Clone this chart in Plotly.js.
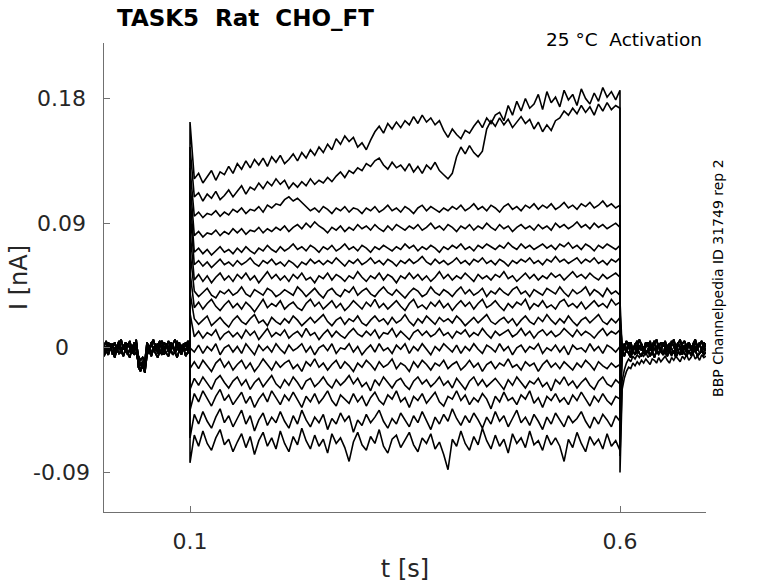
<!DOCTYPE html>
<html>
<head>
<meta charset="utf-8">
<script src="https://cdn.plot.ly/plotly-3.0.1.min.js"></script>
<style>html,body{margin:0;padding:0;background:#ffffff;}</style>
</head>
<body>
<div id="chart" style="width:778px;height:583px;"></div>
<script>
// ---------- sampling clock (s) ----------
const preStart = 0.0, stepOn = 0.1, stepOff = 0.6, postEnd = 0.7;
const dtBase = 0.0025;   // holding segments
const dtStep = 0.005;    // test-pulse segment

// ---------- tick labels ----------
const xTickVals = [0.1, 0.6];
const xTickLabels = ['0.1', '0.6'];
const yTickVals = [0.18, 0.09, 0, -0.09];
const yTickLabels = ['0.18', '0.09', '0', '-0.09'];

// ---------- holding current before the pulse (nA), t = 0 .. 0.1 ----------
const preA = [0.002,-0.003,0.004,-0.001,0.003,-0.004,0.001,0.005,-0.002,0.002,
 -0.003,0.003,0.000,-0.004,0.004,-0.001,-0.009,-0.012,-0.010,-0.013,
 0.001,-0.003,0.004,-0.002,0.003,-0.004,0.002,0.005,-0.001,0.003,
 -0.003,0.004,0.000,-0.002,0.005,-0.003,0.002,-0.001,0.004,-0.002,0.001];
const preB = [-0.004,0.001,-0.002,0.003,-0.005,0.000,-0.003,0.002,-0.004,0.001,
 0.003,-0.005,-0.001,0.002,-0.003,0.006,-0.014,-0.017,-0.011,-0.015,
 -0.003,0.002,-0.005,0.001,-0.002,0.003,-0.004,0.000,-0.005,0.002,
 0.001,-0.003,0.003,-0.004,-0.001,0.002,-0.005,0.001,-0.002,0.003,-0.003];
const preC = [0.001,0.005,-0.001,0.003,0.000,0.004,-0.002,0.003,0.006,-0.001,
 0.004,0.001,0.005,-0.002,0.002,0.004,-0.006,-0.009,-0.007,-0.010,
 0.004,0.000,0.003,0.006,-0.001,0.002,0.005,-0.002,0.004,0.001,
 0.005,-0.001,0.003,0.006,0.000,0.004,-0.002,0.003,0.001,0.005,0.002];
const preD = [-0.006,-0.002,-0.005,0.000,-0.003,-0.007,-0.001,-0.004,-0.002,-0.006,
 -0.001,-0.004,-0.007,0.000,-0.005,-0.003,-0.011,-0.016,-0.013,-0.018,
 -0.005,-0.002,-0.006,-0.001,-0.004,-0.007,-0.002,-0.005,0.000,-0.004,
 -0.006,-0.001,-0.005,-0.003,-0.007,-0.002,-0.004,0.000,-0.006,-0.003,-0.004];

// ---------- current during the test pulse (nA), t = 0.1 .. 0.6 ----------
const sweep01 = [0.163,
 0.122,0.126,0.119,0.124,0.128,0.121,0.127,0.125,
 0.131,0.126,0.133,0.129,0.135,0.130,0.136,0.132,
 0.137,0.131,0.138,0.134,0.139,0.133,0.136,0.140,0.135,
 0.141,0.137,0.143,0.139,0.145,0.141,0.147,0.143,
 0.151,0.147,0.153,0.149,0.152,
 0.145,0.148,0.143,0.150,
 0.156,0.160,0.155,0.162,0.158,0.163,0.159,0.164,
 0.161,0.167,0.162,0.168,0.163,0.166,0.161,0.164,
 0.157,0.152,0.158,0.154,0.151,0.157,0.155,
 0.160,0.164,0.159,0.166,0.162,0.168,
 0.170,0.164,0.175,0.168,0.178,0.171,0.180,0.173,
 0.176,0.183,0.172,0.185,0.177,0.181,0.174,0.186,0.179,0.183,0.175,0.187,0.180,0.176,0.184,0.178,0.188,0.181,0.185,0.179,0.186];
const sweep02 = [0.145,
 0.109,0.112,0.106,0.111,0.108,0.113,0.107,0.110,0.114,0.109,
 0.113,0.117,0.111,0.116,0.114,0.119,0.115,0.120,0.117,
 0.122,0.118,0.121,0.115,0.119,0.116,
 0.120,0.117,0.122,0.118,0.121,0.119,0.123,0.120,
 0.124,0.127,0.123,0.128,0.126,0.130,0.128,0.133,0.131,0.135,0.137,
 0.132,0.129,0.134,0.130,0.132,
 0.128,0.133,0.127,0.131,0.126,0.132,0.129,0.134,0.128,
 0.125,0.122,0.126,
 0.138,0.145,0.140,0.146,0.141,0.138,0.142,
 0.158,0.164,0.160,0.166,0.161,0.165,0.159,0.163,0.167,0.162,0.165,
 0.158,0.163,0.156,0.161,0.157,0.164,
 0.166,0.171,0.168,0.173,0.169,0.175,0.170,0.174,0.168,0.176,0.171,0.177,0.172,0.175,0.173];
const sweep03 = [0.130,
 0.095,0.098,0.094,0.097,0.096,0.099,0.095,0.098,0.096,0.100,
 0.098,0.101,0.097,0.100,0.099,0.102,0.098,0.103,0.101,0.104,0.103,
 0.107,0.109,0.106,0.108,0.105,
 0.102,0.099,0.101,0.098,0.102,0.100,0.097,0.101,0.099,0.102,0.098,0.101,0.100,0.097,
 0.101,0.099,0.102,0.098,0.100,0.103,0.099,0.101,0.098,0.102,0.100,0.097,0.101,0.103,0.099,0.102,0.100,0.098,0.101,0.099,
 0.102,0.100,0.103,0.099,0.101,0.104,0.100,0.102,0.099,0.103,0.101,0.098,0.102,0.104,0.100,0.102,0.099,0.103,0.101,0.104,
 0.100,0.103,0.101,0.104,0.100,0.102,0.105,0.101,0.103,0.100,0.104,0.102,0.105,0.101,0.103,0.106,0.102,0.104,0.101,0.103];
const sweep04 = [0.120,
 0.081,0.084,0.080,0.083,0.082,0.085,0.081,0.084,0.082,0.086,
 0.083,0.086,0.082,0.085,0.084,0.087,0.083,0.086,0.084,0.087,
 0.085,0.088,0.084,0.087,0.089,0.086,0.090,0.087,0.091,0.088,
 0.086,0.083,0.087,0.085,0.088,0.084,0.087,0.085,0.089,0.086,
 0.088,0.085,0.089,0.086,0.084,0.088,0.085,0.089,0.087,0.085,
 0.088,0.086,0.089,0.085,0.087,0.090,0.086,0.088,0.085,0.089,
 0.087,0.084,0.088,0.086,0.089,0.085,0.088,0.086,0.090,0.087,
 0.085,0.089,0.086,0.088,0.084,0.087,0.089,0.086,0.088,0.085,
 0.089,0.086,0.088,0.085,0.090,0.087,0.089,0.086,0.088,0.091,
 0.087,0.089,0.086,0.090,0.087,0.089,0.086,0.088,0.090,0.087];
const sweep05 = [0.110,
 0.069,0.072,0.068,0.071,0.067,0.070,0.073,0.069,0.071,0.068,
 0.072,0.069,0.073,0.070,0.068,0.072,0.070,0.074,0.071,0.069,
 0.073,0.070,0.072,0.075,0.071,0.073,0.070,0.074,0.072,0.069,
 0.073,0.071,0.074,0.070,0.072,0.075,0.071,0.073,0.070,0.074,
 0.072,0.069,0.073,0.071,0.074,0.072,0.070,0.073,0.071,0.075,
 0.072,0.074,0.070,0.073,0.071,0.074,0.072,0.069,0.073,0.071,
 0.074,0.072,0.075,0.071,0.073,0.070,0.074,0.072,0.075,0.073,
 0.071,0.074,0.072,0.076,0.073,0.071,0.075,0.072,0.074,0.071,
 0.073,0.075,0.072,0.074,0.071,0.075,0.073,0.076,0.072,0.074,
 0.071,0.075,0.073,0.070,0.074,0.072,0.075,0.073,0.071,0.074];
const sweep06 = [0.100,
 0.060,0.063,0.059,0.062,0.058,0.061,0.064,0.060,0.062,0.059,
 0.063,0.060,0.062,0.065,0.061,0.059,0.063,0.061,0.064,0.060,
 0.062,0.059,0.063,0.061,0.058,0.062,0.060,0.064,0.061,0.063,
 0.060,0.063,0.061,0.065,0.062,0.059,0.063,0.061,0.064,0.060,
 0.062,0.065,0.061,0.063,0.060,0.064,0.062,0.059,0.063,0.061,
 0.064,0.061,0.063,0.066,0.062,0.060,0.064,0.061,0.063,0.060,
 0.062,0.065,0.061,0.063,0.060,0.064,0.062,0.065,0.061,0.063,
 0.060,0.064,0.062,0.059,0.063,0.061,0.064,0.062,0.065,0.061,
 0.063,0.060,0.064,0.062,0.066,0.062,0.064,0.061,0.063,0.065,
 0.061,0.064,0.062,0.065,0.061,0.063,0.060,0.064,0.062,0.065];
const sweep07 = [0.085,
 0.049,0.053,0.048,0.052,0.047,0.051,0.054,0.049,0.052,0.048,
 0.053,0.050,0.054,0.049,0.052,0.047,0.051,0.055,0.050,0.053,
 0.049,0.052,0.048,0.053,0.050,0.054,0.049,0.051,0.047,0.052,
 0.050,0.054,0.049,0.053,0.051,0.048,0.052,0.050,0.055,0.051,
 0.048,0.052,0.050,0.054,0.049,0.053,0.051,0.047,0.052,0.050,
 0.054,0.050,0.053,0.049,0.052,0.048,0.051,0.055,0.050,0.053,
 0.049,0.052,0.050,0.054,0.051,0.048,0.053,0.050,0.052,0.049,
 0.053,0.051,0.055,0.050,0.052,0.048,0.051,0.054,0.050,0.053,
 0.049,0.052,0.050,0.054,0.051,0.053,0.049,0.052,0.055,0.051,
 0.053,0.050,0.054,0.051,0.049,0.053,0.050,0.052,0.054,0.051];
const sweep08 = [0.070,
 0.041,0.037,0.040,0.043,0.038,0.036,0.041,0.039,0.042,0.038,
 0.040,0.044,0.039,0.037,0.042,0.040,0.038,0.043,0.041,0.037,
 0.039,0.042,0.040,0.038,0.044,0.041,0.037,0.040,0.043,0.039,
 0.036,0.041,0.043,0.039,0.037,0.042,0.040,0.044,0.038,0.041,
 0.043,0.039,0.037,0.041,0.044,0.040,0.038,0.042,0.039,0.036,
 0.040,0.043,0.041,0.037,0.039,0.044,0.040,0.038,0.042,0.040,
 0.037,0.041,0.044,0.039,0.042,0.038,0.040,0.043,0.037,0.041,
 0.039,0.043,0.040,0.038,0.042,0.044,0.039,0.041,0.037,0.042,
 0.040,0.038,0.043,0.041,0.039,0.044,0.040,0.037,0.042,0.039,
 0.041,0.044,0.038,0.042,0.040,0.037,0.043,0.039,0.041,0.038];
const sweep09 = [0.055,
 0.029,0.033,0.028,0.032,0.035,0.030,0.027,0.031,0.034,0.029,
 0.032,0.028,0.033,0.030,0.026,0.031,0.035,0.029,0.032,0.030,
 0.034,0.028,0.031,0.033,0.029,0.027,0.032,0.035,0.030,0.033,
 0.028,0.031,0.034,0.029,0.032,0.027,0.030,0.034,0.031,0.028,
 0.033,0.030,0.035,0.029,0.032,0.028,0.031,0.034,0.030,0.027,
 0.032,0.035,0.029,0.031,0.028,0.033,0.030,0.034,0.029,0.032,
 0.027,0.031,0.034,0.030,0.033,0.028,0.032,0.035,0.029,0.031,
 0.034,0.030,0.027,0.032,0.029,0.033,0.031,0.035,0.028,0.032,
 0.030,0.034,0.029,0.031,0.028,0.033,0.035,0.030,0.032,0.029,
 0.033,0.028,0.031,0.034,0.030,0.032,0.029,0.035,0.031,0.033];
const sweep10 = [0.040,
 0.021,0.017,0.020,0.023,0.016,0.019,0.022,0.018,0.015,0.020,
 0.023,0.019,0.017,0.021,0.024,0.018,0.020,0.016,0.022,0.019,
 0.017,0.021,0.018,0.023,0.020,0.016,0.019,0.022,0.018,0.021,
 0.024,0.019,0.016,0.020,0.022,0.017,0.021,0.019,0.023,0.018,
 0.016,0.020,0.023,0.019,0.021,0.017,0.022,0.018,0.020,0.024,
 0.019,0.016,0.021,0.018,0.023,0.020,0.017,0.022,0.019,0.021,
 0.018,0.023,0.020,0.016,0.019,0.022,0.018,0.021,0.024,0.019,
 0.017,0.020,0.022,0.018,0.021,0.016,0.020,0.023,0.019,0.017,
 0.022,0.019,0.024,0.020,0.017,0.021,0.018,0.023,0.019,0.016,
 0.020,0.022,0.018,0.021,0.024,0.019,0.017,0.021,0.018,0.022];
const sweep11 = [0.025,
 0.008,0.012,0.007,0.011,0.009,0.013,0.006,0.010,0.012,0.008,
 0.011,0.007,0.013,0.009,0.012,0.006,0.010,0.014,0.008,0.011,
 0.009,0.013,0.007,0.010,0.012,0.008,0.014,0.009,0.011,0.006,
 0.010,0.013,0.008,0.012,0.009,0.007,0.011,0.014,0.010,0.008,
 0.012,0.009,0.013,0.007,0.011,0.010,0.014,0.008,0.012,0.009,
 0.006,0.011,0.013,0.009,0.012,0.008,0.010,0.014,0.009,0.011,
 0.007,0.012,0.010,0.013,0.008,0.011,0.009,0.014,0.010,0.007,
 0.012,0.009,0.011,0.013,0.008,0.010,0.014,0.009,0.012,0.007,
 0.011,0.013,0.009,0.012,0.008,0.010,0.014,0.011,0.008,0.013,
 0.009,0.012,0.010,0.007,0.011,0.014,0.009,0.012,0.010,0.013];
const sweep12 = [0.000,
 -0.003,0.002,-0.004,0.001,-0.002,0.003,-0.005,0.000,0.002,-0.003,
 0.001,-0.004,0.003,-0.001,-0.005,0.002,-0.002,0.001,-0.003,0.003,
 -0.001,-0.004,0.002,-0.002,0.000,0.003,-0.003,0.001,-0.005,0.000,
 0.002,-0.002,0.003,-0.004,0.000,-0.001,0.003,-0.003,0.001,-0.005,
 -0.001,0.002,-0.003,0.003,-0.002,0.000,-0.004,0.002,-0.001,0.003,
 -0.004,0.001,-0.002,0.003,-0.001,-0.005,0.001,-0.002,0.003,0.000,
 -0.003,0.002,-0.004,0.001,-0.002,0.003,-0.001,-0.004,0.002,0.000,
 -0.003,0.003,-0.002,0.001,-0.005,0.000,0.002,-0.003,0.001,-0.001,
 0.003,-0.004,0.000,-0.002,0.002,-0.003,0.001,-0.005,0.002,-0.001,
 0.000,-0.003,0.003,-0.002,0.001,-0.004,0.002,0.000,-0.003,0.001];
const sweep13 = [-0.015,
 -0.010,-0.015,-0.009,-0.013,-0.017,-0.011,-0.008,-0.014,-0.010,-0.016,
 -0.012,-0.009,-0.015,-0.011,-0.017,-0.013,-0.008,-0.012,-0.016,-0.010,
 -0.014,-0.011,-0.009,-0.015,-0.012,-0.017,-0.010,-0.013,-0.008,-0.014,
 -0.011,-0.016,-0.012,-0.009,-0.015,-0.010,-0.013,-0.017,-0.011,-0.014,
 -0.009,-0.012,-0.016,-0.010,-0.014,-0.012,-0.008,-0.015,-0.011,-0.013,
 -0.017,-0.010,-0.014,-0.009,-0.012,-0.016,-0.011,-0.013,-0.009,-0.015,
 -0.012,-0.010,-0.016,-0.013,-0.009,-0.014,-0.011,-0.017,-0.012,-0.010,
 -0.015,-0.011,-0.013,-0.008,-0.014,-0.012,-0.016,-0.010,-0.013,-0.011,
 -0.017,-0.012,-0.009,-0.014,-0.011,-0.015,-0.010,-0.013,-0.016,-0.011,
 -0.014,-0.009,-0.012,-0.016,-0.010,-0.013,-0.015,-0.011,-0.014,-0.012];
const sweep14 = [-0.030,
 -0.022,-0.027,-0.021,-0.026,-0.030,-0.023,-0.020,-0.025,-0.029,-0.024,
 -0.021,-0.027,-0.023,-0.030,-0.025,-0.022,-0.028,-0.024,-0.020,-0.026,
 -0.029,-0.023,-0.027,-0.021,-0.025,-0.030,-0.024,-0.022,-0.028,-0.025,
 -0.021,-0.026,-0.029,-0.023,-0.027,-0.024,-0.020,-0.026,-0.022,-0.028,
 -0.025,-0.031,-0.023,-0.027,-0.021,-0.025,-0.029,-0.024,-0.022,-0.027,
 -0.030,-0.024,-0.021,-0.026,-0.023,-0.028,-0.025,-0.021,-0.027,-0.024,
 -0.029,-0.022,-0.026,-0.030,-0.024,-0.021,-0.027,-0.023,-0.028,-0.025,
 -0.022,-0.026,-0.030,-0.023,-0.027,-0.021,-0.025,-0.029,-0.024,-0.026,
 -0.022,-0.028,-0.025,-0.031,-0.023,-0.026,-0.021,-0.027,-0.024,-0.029,
 -0.025,-0.022,-0.027,-0.030,-0.024,-0.021,-0.026,-0.028,-0.023,-0.026];
const sweep15 = [-0.045,
 -0.033,-0.039,-0.031,-0.037,-0.042,-0.035,-0.030,-0.038,-0.034,-0.041,
 -0.036,-0.032,-0.040,-0.035,-0.043,-0.037,-0.033,-0.039,-0.031,-0.036,
 -0.041,-0.034,-0.038,-0.032,-0.037,-0.043,-0.035,-0.039,-0.033,-0.040,
 -0.036,-0.031,-0.038,-0.042,-0.034,-0.037,-0.040,-0.033,-0.039,-0.035,
 -0.042,-0.036,-0.032,-0.038,-0.041,-0.034,-0.037,-0.031,-0.039,-0.036,
 -0.043,-0.035,-0.038,-0.033,-0.040,-0.036,-0.032,-0.039,-0.042,-0.035,
 -0.037,-0.031,-0.038,-0.034,-0.041,-0.036,-0.039,-0.033,-0.037,-0.044,
 -0.035,-0.039,-0.032,-0.038,-0.036,-0.041,-0.034,-0.037,-0.031,-0.040,
 -0.036,-0.043,-0.035,-0.038,-0.033,-0.039,-0.036,-0.041,-0.034,-0.038,
 -0.032,-0.037,-0.042,-0.035,-0.039,-0.033,-0.038,-0.041,-0.035,-0.037];
const sweep16 = [-0.065,
 -0.048,-0.055,-0.046,-0.053,-0.058,-0.050,-0.044,-0.054,-0.049,-0.057,
 -0.051,-0.045,-0.055,-0.049,-0.060,-0.052,-0.047,-0.056,-0.050,-0.054,
 -0.046,-0.053,-0.058,-0.049,-0.055,-0.045,-0.052,-0.057,-0.050,-0.054,
 -0.048,-0.059,-0.051,-0.055,-0.047,-0.053,-0.049,-0.061,-0.052,-0.056,
 -0.048,-0.054,-0.050,-0.045,-0.053,-0.058,-0.051,-0.055,-0.047,-0.052,
 -0.057,-0.049,-0.054,-0.046,-0.052,-0.059,-0.050,-0.055,-0.048,-0.053,
 -0.044,-0.051,-0.056,-0.049,-0.054,-0.047,-0.052,-0.058,-0.050,-0.055,
 -0.046,-0.053,-0.049,-0.057,-0.051,-0.045,-0.054,-0.050,-0.056,-0.048,
 -0.053,-0.059,-0.050,-0.055,-0.047,-0.052,-0.057,-0.049,-0.054,-0.051,
 -0.046,-0.053,-0.058,-0.050,-0.055,-0.048,-0.052,-0.057,-0.049,-0.053];
const sweep17 = [-0.083,
 -0.063,-0.071,-0.060,-0.069,-0.074,-0.065,-0.059,-0.070,-0.066,-0.075,
 -0.068,-0.062,-0.072,-0.064,-0.077,-0.067,-0.061,-0.071,-0.065,-0.073,
 -0.060,-0.069,-0.075,-0.064,-0.070,-0.058,-0.067,-0.073,-0.063,-0.071,
 -0.066,-0.076,-0.062,-0.069,-0.065,-0.072,-0.082,-0.068,-0.061,-0.070,
 -0.074,-0.064,-0.069,-0.059,-0.071,-0.076,-0.066,-0.063,-0.072,-0.067,
 -0.061,-0.070,-0.075,-0.065,-0.069,-0.062,-0.073,-0.068,-0.077,-0.088,
 -0.066,-0.071,-0.060,-0.069,-0.074,-0.064,-0.070,-0.058,-0.067,-0.073,
 -0.063,-0.071,-0.066,-0.076,-0.062,-0.069,-0.065,-0.072,-0.060,-0.070,
 -0.067,-0.074,-0.063,-0.070,-0.065,-0.071,-0.082,-0.066,-0.072,-0.061,
 -0.069,-0.075,-0.064,-0.070,-0.066,-0.073,-0.062,-0.071,-0.067,-0.074];

// ---------- capacitive transient at pulse end (nA), one per sweep ----------
const offTransient = [-0.090,-0.078,-0.062,-0.052,-0.044,-0.036,-0.028,-0.022,-0.016,
 -0.010,-0.005,0.000,0.006,0.012,0.018,0.026,0.034];

// ---------- current after the pulse (nA), t = 0.6025 .. 0.7 ----------
const postA = [-0.001,0.003,-0.002,0.004,0.000,-0.003,0.002,0.005,-0.001,0.003,
 -0.004,0.001,0.004,-0.002,0.002,0.005,-0.001,0.003,-0.003,0.004,
 0.000,0.002,-0.002,0.005,0.001,-0.003,0.003,0.006,-0.001,0.002,
 -0.002,0.004,0.001,-0.003,0.005,0.000,0.003,-0.002,0.004,0.001];
const postB = [-0.004,0.000,-0.003,0.002,-0.005,-0.001,0.001,-0.004,0.002,-0.002,
 0.001,-0.005,-0.001,0.003,-0.003,0.000,-0.004,0.002,-0.002,-0.005,
 0.001,-0.003,0.003,-0.001,-0.004,0.002,-0.002,0.000,-0.005,0.001,
 -0.003,0.003,-0.001,-0.004,0.001,-0.002,0.004,-0.003,0.000,-0.002];
const postC = [0.003,-0.001,0.005,0.001,0.004,-0.002,0.003,0.000,0.006,0.002,
 -0.001,0.004,0.001,0.005,-0.002,0.003,0.006,0.000,0.004,0.001,
 0.005,-0.001,0.003,0.002,0.006,0.000,0.004,-0.001,0.003,0.005,
 0.001,0.004,-0.002,0.003,0.006,0.001,0.002,0.005,-0.001,0.003];
const postD = [-0.002,-0.006,-0.001,-0.004,-0.007,-0.002,-0.005,0.000,-0.004,-0.006,
 -0.002,-0.005,-0.001,-0.006,-0.003,-0.007,-0.002,-0.004,0.000,-0.005,
 -0.003,-0.006,-0.001,-0.004,-0.002,-0.007,-0.003,-0.005,-0.001,-0.004,
 -0.006,-0.002,-0.005,-0.003,-0.001,-0.006,-0.004,-0.002,-0.005,-0.003];
const postTail1 = [-0.030,-0.022,-0.017,-0.014,-0.015,-0.011,-0.013,-0.010,-0.012,-0.009,
 -0.011,-0.008,-0.010,-0.012,-0.008,-0.009,-0.011,-0.007,-0.010,-0.008,
 -0.006,-0.009,-0.011,-0.007,-0.009,-0.006,-0.008,-0.010,-0.006,-0.008,
 -0.005,-0.009,-0.007,-0.004,-0.008,-0.006,-0.009,-0.005,-0.007,-0.006];
const postTail2 = [-0.024,-0.016,-0.011,-0.008,-0.010,-0.006,-0.008,-0.005,-0.007,-0.004,
 -0.006,-0.003,-0.007,-0.004,-0.002,-0.006,-0.003,-0.005,-0.002,-0.004,
 -0.001,-0.005,-0.003,-0.006,-0.002,-0.004,-0.001,-0.005,-0.003,0.000,
 -0.004,-0.002,-0.005,-0.001,-0.003,0.001,-0.004,-0.002,-0.003,0.000];

// ---------- assemble sweeps ----------
const sweeps = [sweep01,sweep02,sweep03,sweep04,sweep05,sweep06,sweep07,sweep08,sweep09,
  sweep10,sweep11,sweep12,sweep13,sweep14,sweep15,sweep16,sweep17];
const preSet = [preA, preB, preC, preD];
const postSet = [postA, postB, postC, postD];

function clock(t0, dt, n) { const a = []; for (let i = 0; i < n; i++) a.push(+(t0 + i * dt).toFixed(5)); return a; }
const tPre = clock(preStart, dtBase, preA.length);            // 0 .. 0.1
const tStep = clock(stepOn, dtStep, sweep01.length);          // 0.1 .. 0.6
const tPost = [stepOff].concat(clock(stepOff + dtBase, dtBase, postA.length)); // 0.6 .. 0.7

const data = sweeps.map((sw, i) => {
  const pre = preSet[i % 4];
  let post;
  if (i === 0) post = postTail1; else if (i === 1) post = postTail2; else post = postSet[i % 4];
  return {
    type: 'scatter', mode: 'lines',
    x: tPre.concat(tStep, tPost),
    y: pre.concat(sw, [offTransient[i]], post),
    line: { color: '#000000', width: 1.6 },
    hoverinfo: 'skip', showlegend: false
  };
});

const font = 'DejaVu Sans, Liberation Sans, sans-serif';
const axisGrey = '#707070';
const labelGrey = '#262626';

const annotations = yTickVals.map((v, i) => ({
  xref: 'paper', yref: 'y', x: -0.07, y: v, text: yTickLabels[i],
  showarrow: false, xanchor: 'center', yanchor: 'middle',
  font: { family: font, size: 22, color: labelGrey }
}));
annotations.push({
  xref: 'paper', yref: 'paper', x: 0.997, y: 1.0085, text: '25 °C\u00a0\u00a0Activation',
  showarrow: false, xanchor: 'right', yanchor: 'middle',
  font: { family: font, size: 18.5, color: '#000000' }
});
annotations.push({
  xref: 'paper', yref: 'paper', x: 1.019, y: 0.5, text: 'BBP Channelpedia ID 31749 rep 2',
  showarrow: false, xanchor: 'center', yanchor: 'middle', textangle: -90,
  font: { family: font, size: 14, color: '#000000' }
});

const layout = {
  width: 778, height: 583,
  margin: { l: 104, r: 72, t: 43, b: 71, pad: 0 },
  paper_bgcolor: '#ffffff', plot_bgcolor: '#ffffff',
  font: { family: font, color: labelGrey },
  title: {
    text: '<b>TASK5\u00a0\u00a0Rat\u00a0\u00a0CHO_FT</b>',
    font: { family: font, size: 23, color: '#000000' },
    xref: 'paper', x: 0.0216, xanchor: 'left',
    yref: 'container', y: 0.969, yanchor: 'middle'
  },
  xaxis: {
    range: [preStart, postEnd], tickmode: 'array', tickvals: xTickVals, ticktext: xTickLabels,
    ticks: 'inside', ticklen: 6, tickwidth: 1, tickcolor: axisGrey,
    showline: true, linecolor: axisGrey, linewidth: 1, mirror: false,
    showgrid: false, zeroline: false, ticklabelstandoff: 10,
    tickfont: { family: font, size: 22, color: labelGrey },
    title: { text: 't [s]', font: { family: font, size: 24, color: labelGrey }, standoff: 8 }
  },
  yaxis: {
    range: [-0.1185, 0.2201], tickmode: 'array', tickvals: yTickVals,
    showticklabels: false,
    ticks: 'inside', ticklen: 6, tickwidth: 1, tickcolor: axisGrey,
    showline: true, linecolor: axisGrey, linewidth: 1, mirror: false,
    showgrid: false, zeroline: false,
    title: { text: 'I [nA]', font: { family: font, size: 24, color: labelGrey }, standoff: 68 }
  },
  annotations: annotations,
  hovermode: false
};

Plotly.newPlot('chart', data, layout, { staticPlot: true, displayModeBar: false });
</script>
</body>
</html>
